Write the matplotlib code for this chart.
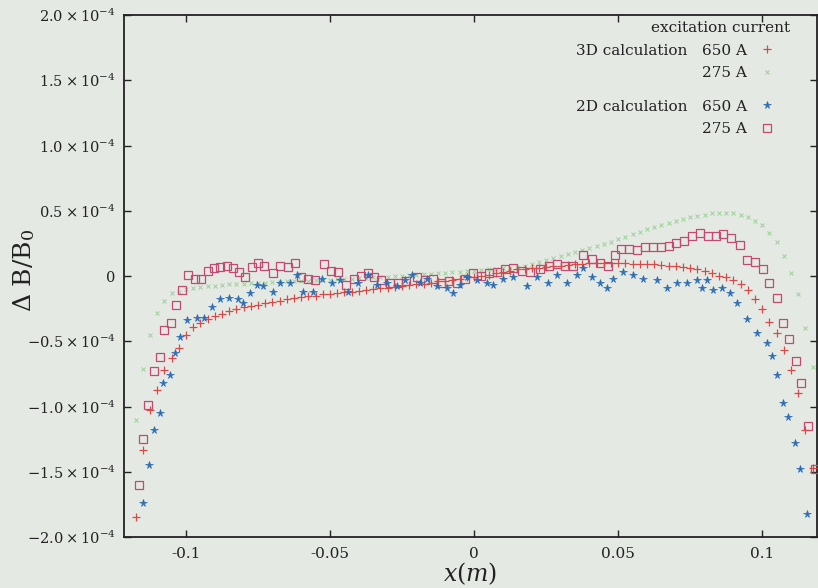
import matplotlib
matplotlib.use("Agg")
import matplotlib.pyplot as plt
from matplotlib.lines import Line2D

plt.rcParams['font.family'] = ['DejaVu Serif']
plt.rcParams['mathtext.fontset'] = 'dejavuserif'

# ---------------- data (dB/B0 in units of 1e-4) ----------------
x_3d = [-0.1175, -0.115, -0.1125, -0.11, -0.1075, -0.105, -0.1025, -0.1, -0.0975, -0.095,
        -0.0925, -0.09, -0.0875, -0.085, -0.0825, -0.08, -0.0775, -0.075, -0.0725, -0.07,
        -0.0675, -0.065, -0.0625, -0.06, -0.0575, -0.055, -0.0525, -0.05, -0.0475, -0.045,
        -0.0425, -0.04, -0.0375, -0.035, -0.0325, -0.03, -0.0275, -0.025, -0.0225, -0.02,
        -0.0175, -0.015, -0.0125, -0.01, -0.0075, -0.005, -0.0025, 0.0, 0.0025, 0.005,
        0.0075, 0.01, 0.0125, 0.015, 0.0175, 0.02, 0.0225, 0.025, 0.0275, 0.03,
        0.0325, 0.035, 0.0375, 0.04, 0.0425, 0.045, 0.0475, 0.05, 0.0525, 0.055,
        0.0575, 0.06, 0.0625, 0.065, 0.0675, 0.07, 0.0725, 0.075, 0.0775, 0.08,
        0.0825, 0.085, 0.0875, 0.09, 0.0925, 0.095, 0.0975, 0.1, 0.1025, 0.105,
        0.1075, 0.11, 0.1125, 0.115, 0.1175]

y_3d_650 = [-1.85, -1.33, -1.03, -0.87, -0.72, -0.63, -0.55, -0.45, -0.39, -0.36,
            -0.33, -0.31, -0.29, -0.27, -0.255, -0.24, -0.23, -0.22, -0.21, -0.20,
            -0.19, -0.18, -0.17, -0.16, -0.155, -0.15, -0.14, -0.135, -0.13, -0.125,
            -0.12, -0.115, -0.11, -0.10, -0.095, -0.09, -0.085, -0.08, -0.07, -0.065,
            -0.06, -0.05, -0.04, -0.035, -0.03, -0.02, -0.01, -0.005, 0.0, 0.01,
            0.02, 0.03, 0.04, 0.05, 0.055, 0.06, 0.065, 0.07, 0.075, 0.08,
            0.085, 0.09, 0.095, 0.10, 0.10, 0.10, 0.10, 0.10, 0.10, 0.095,
            0.095, 0.09, 0.09, 0.085, 0.08, 0.075, 0.07, 0.06, 0.05, 0.04,
            0.02, 0.0, -0.01, -0.03, -0.06, -0.11, -0.18, -0.25, -0.35, -0.44,
            -0.57, -0.72, -0.90, -1.18, -1.47]

y_3d_275 = [-1.10, -0.71, -0.45, -0.28, -0.19, -0.13, -0.12, -0.10, -0.09, -0.085,
            -0.08, -0.075, -0.07, -0.065, -0.06, -0.058, -0.055, -0.052, -0.05, -0.048,
            -0.045, -0.042, -0.04, -0.038, -0.035, -0.032, -0.03, -0.028, -0.025, -0.022,
            -0.02, -0.017, -0.014, -0.011, -0.008, -0.005, -0.002, 0.0, 0.004, 0.008,
            0.012, 0.016, 0.02, 0.024, 0.028, 0.032, 0.036, 0.04, 0.045, 0.05,
            0.055, 0.06, 0.065, 0.07, 0.08, 0.095, 0.11, 0.125, 0.14, 0.155,
            0.17, 0.185, 0.20, 0.215, 0.23, 0.245, 0.26, 0.28, 0.30, 0.32,
            0.34, 0.36, 0.375, 0.39, 0.405, 0.42, 0.435, 0.45, 0.46, 0.47,
            0.48, 0.485, 0.485, 0.48, 0.47, 0.45, 0.42, 0.39, 0.33, 0.26,
            0.15, 0.02, -0.14, -0.40, -0.70]

x_2d_650 = [-0.1149, -0.1128, -0.1111, -0.1090, -0.1080, -0.1056, -0.1038, -0.1021, -0.0997, -0.0962,
            -0.0938, -0.0910, -0.0882, -0.0851, -0.0819, -0.0802, -0.0778, -0.0753, -0.0733, -0.0698,
            -0.0674, -0.0639, -0.0615, -0.0594, -0.0559, -0.0528, -0.0493, -0.0465, -0.0438, -0.0403,
            -0.0368, -0.0337, -0.0302, -0.0267, -0.0240, -0.0215, -0.0188, -0.0163, -0.0128, -0.0094,
            -0.0073, -0.0049, -0.0024, 0.0010, 0.0045, 0.0066, 0.0101, 0.0135, 0.0184, 0.0219,
            0.0257, 0.0288, 0.0323, 0.0358, 0.0378, 0.0410, 0.0438, 0.0462, 0.0483, 0.0517,
            0.0552, 0.0587, 0.0635, 0.0670, 0.0705, 0.0740, 0.0774, 0.0792, 0.0809, 0.0830,
            0.0861, 0.0889, 0.0913, 0.0948, 0.0983, 0.1017, 0.1035, 0.1052, 0.1073, 0.1090,
            0.1115, 0.1132, 0.1156]
y_2d_650 = [-1.74, -1.45, -1.18, -1.05, -0.82, -0.76, -0.59, -0.47, -0.34, -0.32,
            -0.32, -0.24, -0.18, -0.17, -0.18, -0.21, -0.13, -0.07, -0.08, -0.12,
            -0.05, -0.05, 0.01, -0.12, -0.12, -0.02, -0.05, -0.03, -0.12, -0.05,
            0.01, -0.07, -0.05, -0.08, -0.03, 0.01, -0.05, -0.02, -0.08, -0.09,
            -0.13, -0.07, -0.01, -0.03, -0.05, -0.07, -0.02, -0.01, -0.08, -0.01,
            -0.05, 0.01, -0.05, 0.01, 0.06, -0.01, -0.05, -0.09, -0.02, 0.03,
            0.01, -0.02, -0.03, -0.09, -0.05, -0.05, -0.03, -0.09, -0.03, -0.11,
            -0.09, -0.13, -0.21, -0.33, -0.44, -0.51, -0.61, -0.76, -0.97, -1.08,
            -1.28, -1.48, -1.82]

x_2d_275 = [-0.1163, -0.1149, -0.1132, -0.1111, -0.1090, -0.1076, -0.1052, -0.1035, -0.1014, -0.0993,
            -0.0969, -0.0948, -0.0924, -0.0903, -0.0882, -0.0858, -0.0837, -0.0816, -0.0795, -0.0771,
            -0.0750, -0.0729, -0.0698, -0.0674, -0.0646, -0.0622, -0.0601, -0.0576, -0.0552, -0.0521,
            -0.0497, -0.0472, -0.0444, -0.0417, -0.0392, -0.0368, -0.0347, -0.0323, -0.0292, -0.0264,
            -0.0236, -0.0198, -0.0170, -0.0142, -0.0115, -0.0087, -0.0059, -0.0031, -0.0003, 0.0024,
            0.0052, 0.0080, 0.0108, 0.0135, 0.0167, 0.0194, 0.0229, 0.0260, 0.0288, 0.0316,
            0.0344, 0.0378, 0.0410, 0.0438, 0.0465, 0.0490, 0.0510, 0.0538, 0.0566, 0.0594,
            0.0622, 0.0649, 0.0677, 0.0701, 0.0729, 0.0757, 0.0785, 0.0813, 0.0840, 0.0865,
            0.0892, 0.0924, 0.0948, 0.0976, 0.1003, 0.1024, 0.1052, 0.1073, 0.1094, 0.1118,
            0.1135, 0.1160, 0.1184]
y_2d_275 = [-1.60, -1.25, -0.99, -0.73, -0.62, -0.41, -0.36, -0.22, -0.11, 0.01,
            -0.02, -0.02, 0.04, 0.06, 0.07, 0.08, 0.06, 0.03, -0.01, 0.07,
            0.10, 0.08, 0.02, 0.08, 0.07, 0.10, -0.01, -0.02, -0.03, 0.09,
            0.04, 0.03, -0.07, -0.02, 0.0, 0.02, -0.01, -0.03, -0.05, -0.05,
            -0.04, -0.01, -0.03, -0.02, -0.05, -0.04, -0.05, -0.02, 0.02, 0.0,
            0.02, 0.03, 0.05, 0.06, 0.04, 0.03, 0.05, 0.08, 0.09, 0.08,
            0.08, 0.16, 0.13, 0.10, 0.08, 0.16, 0.21, 0.21, 0.20, 0.22,
            0.22, 0.22, 0.23, 0.25, 0.27, 0.31, 0.33, 0.31, 0.31, 0.32,
            0.29, 0.24, 0.12, 0.11, 0.05, -0.05, -0.17, -0.36, -0.48, -0.65,
            -0.82, -1.15, -1.48]

y_ticks = [-2.0, -1.5, -1.0, -0.5, 0.0, 0.5, 1.0, 1.5, 2.0]
y_tick_labels = [r'$-2.0\times10^{-4}$', r'$-1.5\times10^{-4}$', r'$-1.0\times10^{-4}$',
                 r'$-0.5\times10^{-4}$', '0', r'$0.5\times10^{-4}$', r'$1.0\times10^{-4}$',
                 r'$1.5\times10^{-4}$', r'$2.0\times10^{-4}$']
x_ticks = [-0.1, -0.05, 0.0, 0.05, 0.1]
x_tick_labels = ['-0.1', '-0.05', '0', '0.05', '0.1']

SCALE = 1e-4

# ---------------- styling ----------------
bg = '#e5e9e3'
c_plus = '#d64a4a'
c_x = '#9ccf98'
c_star = '#2e6db4'
c_sq = '#c24a72'

fig = plt.figure(figsize=(8.18, 5.88), dpi=100, facecolor=bg)
ax = fig.add_axes([124/818, 51/588, 693/818, 522/588], facecolor=bg)

ax.plot(x_3d, [v*SCALE for v in y_3d_275], ls='none', marker='x', ms=3.2, mew=0.7,
        color=c_x, zorder=2)
ax.plot(x_2d_275, [v*SCALE for v in y_2d_275], ls='none', marker='s', ms=6.0, mew=0.9,
        mfc='none', mec=c_sq, zorder=3)
ax.plot(x_3d, [v*SCALE for v in y_3d_650], ls='none', marker='+', ms=5.5, mew=0.9,
        color=c_plus, zorder=4)
ax.plot(x_2d_650, [v*SCALE for v in y_2d_650], ls='none', marker='*', ms=5.5, mew=0.5,
        color=c_star, zorder=5)

ax.set_xlim(-0.1215, 0.119)
ax.set_ylim(-2.0*SCALE, 2.0*SCALE)
ax.set_yticks([v*SCALE for v in y_ticks])
ax.set_yticklabels(y_tick_labels)
ax.set_xticks(x_ticks)
ax.set_xticklabels(x_tick_labels)
ax.tick_params(direction='in', length=5, width=1.0, top=True, right=True,
               labelsize=10.5, pad=6, colors='#222222')
ax.tick_params(axis='x', labelsize=11, pad=7)
for s in ax.spines.values():
    s.set_linewidth(1.3)
    s.set_color('#222222')

ax.set_xlabel(r'$x(m)$', fontsize=17, labelpad=0, color='#222222')
ax.set_ylabel(r'$\Delta\ \mathrm{B/B_0}$', fontsize=18, color='#222222')
ax.yaxis.set_label_coords(-0.1255, 0.51)

# ---------------- legend ----------------
ax.text(0.961, 0.975, 'excitation current', transform=ax.transAxes, ha='right',
        va='center', fontsize=11, color='#222222')

h650_3d = Line2D([], [], ls='none', marker='+', ms=5.5, mew=0.9, color=c_plus)
h275_3d = Line2D([], [], ls='none', marker='x', ms=3.2, mew=0.7, color=c_x)
h650_2d = Line2D([], [], ls='none', marker='*', ms=5.5, mew=0.5, color=c_star)
h275_2d = Line2D([], [], ls='none', marker='s', ms=6.0, mew=0.9, mfc='none', mec=c_sq)

leg_kw = dict(markerfirst=False, alignment='right', frameon=False, fontsize=11,
              handlelength=0.8, handletextpad=0.9, labelspacing=0.55, borderpad=0,
              borderaxespad=0, labelcolor='#222222')
leg1 = ax.legend([h650_3d, h275_3d], ['3D calculation   650 A', '275 A'],
                 loc='upper right', bbox_to_anchor=(0.937, 0.945), **leg_kw)
ax.add_artist(leg1)
leg2 = ax.legend([h650_2d, h275_2d], ['2D calculation   650 A', '275 A'],
                 loc='upper right', bbox_to_anchor=(0.937, 0.838), **leg_kw)

fig.savefig('out.png', dpi=100, facecolor=bg)
